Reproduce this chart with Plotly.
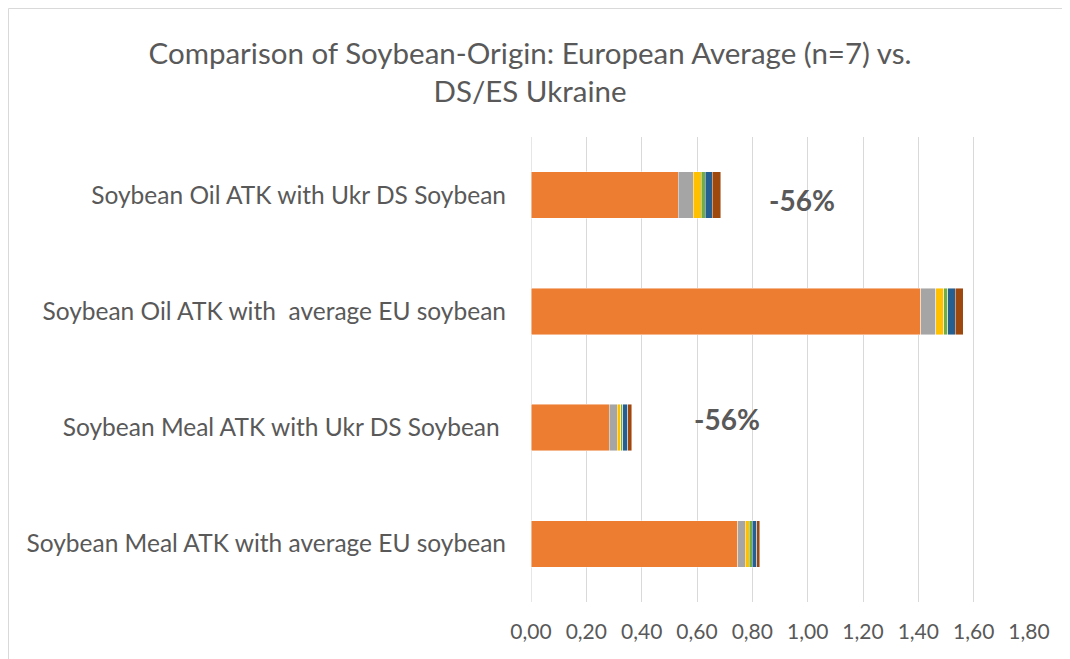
import plotly.graph_objects as go

categories = [
    "Soybean Meal ATK with average EU soybean",
    "Soybean Meal ATK with Ukr DS Soybean ",
    "Soybean Oil ATK with  average EU soybean",
    "Soybean Oil ATK with Ukr DS Soybean",
]
# stacked contributions, order bottom-to-top category
seg_orange = [0.747, 0.283, 1.409, 0.532]
seg_gray = [0.027, 0.029, 0.054, 0.055]
seg_yellow = [0.015, 0.013, 0.029, 0.029]
seg_green = [0.010, 0.006, 0.014, 0.013]
seg_blue = [0.017, 0.018, 0.028, 0.027]
seg_brown = [0.011, 0.015, 0.028, 0.029]

series = [
    ("s1", seg_orange, "#ED7D31"),
    ("s2", seg_gray, "#A5A5A5"),
    ("s3", seg_yellow, "#FFC000"),
    ("s4", seg_green, "#70AD47"),
    ("s5", seg_blue, "#255E91"),
    ("s6", seg_brown, "#9E480E"),
]

tick_vals = [0, 0.2, 0.4, 0.6, 0.8, 1.0, 1.2, 1.4, 1.6, 1.8]
tick_text = ["0,00", "0,20", "0,40", "0,60", "0,80", "1,00", "1,20", "1,40", "1,60", "1,80"]

labels_text = ["-56%", "-56%"]
labels_x = [0.708, 0.98]
labels_ypos = [1.07, 2.96]

FONT = "Lato, Calibri, sans-serif"

fig = go.Figure()
for name, vals, col in series:
    fig.add_trace(go.Bar(
        y=categories, x=vals, name=name, orientation="h",
        marker=dict(color=col, line=dict(color="rgba(255,255,255,0.6)", width=0.75)),
        showlegend=False, hoverinfo="x",
    ))

# page body has an 8px margin, so the figure is laid out in its own coordinates
W, H = 1062, 651
ml, mr, mt, mb = 523, 41, 129, 57
pw, ph = W - ml - mr, H - mt - mb

for t, xv, yv in zip(labels_text, labels_x, labels_ypos):
    fig.add_annotation(x=xv, y=yv, text="<b>%s</b>" % t, showarrow=False,
                       font=dict(family=FONT, size=28, color="#595959"))

# chart border
fig.add_shape(type="rect", xref="paper", yref="paper",
              x0=(0.5 - ml) / pw, x1=(1058 - ml) / pw,
              y0=(H - mb - 690) / ph, y1=(H - mb - 0.5) / ph,
              line=dict(color="#D9D9D9", width=1), fillcolor="rgba(0,0,0,0)", layer="below")

fig.update_layout(
    width=W, height=H,
    barmode="stack", bargap=0.6,
    paper_bgcolor="white", plot_bgcolor="white",
    margin=dict(l=ml, r=mr, t=mt, b=mb, autoexpand=False),
    title=dict(text="Comparison of Soybean-Origin: European Average (n=7) vs.<br>DS/ES Ukraine",
               x=522 / W, xanchor="center", y=1 - 56 / H, yanchor="middle",
               font=dict(family=FONT, size=29.5, color="#595959")),
    xaxis=dict(range=[0, 1.8], tickvals=tick_vals, ticktext=tick_text,
               showgrid=True, gridcolor="#D9D9D9", gridwidth=1.3,
               zeroline=False, showline=False, ticks="", automargin=False,
               ticklabelstandoff=15,
               tickfont=dict(family=FONT, size=21, color="#595959")),
    yaxis=dict(showgrid=False, zeroline=False, showline=False, ticks="", ticklen=0,
               automargin=False, ticklabelstandoff=24,
               tickfont=dict(family=FONT, size=24.5, color="#595959")),
)
fig.add_vline(x=0, line=dict(color="#D9D9D9", width=1.3), layer="below")

fig.write_html("out.html")
